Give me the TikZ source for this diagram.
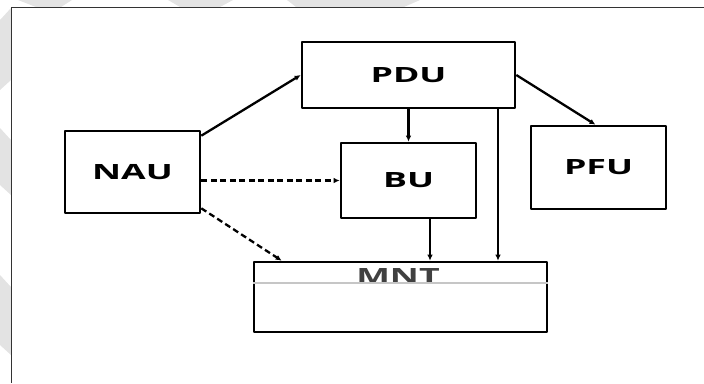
\documentclass[tikz,border=0pt]{standalone}
\usepackage{fontspec}
\usepackage{tikz}
\usetikzlibrary{arrows.meta}

\newfontfamily\unitafont[FakeStretch=1.7]{Open Sans}

\begin{document}
\begin{tikzpicture}[
        x=1pt, y=-1pt,
        line join=round,
        unita/.style={draw, line width=2.6pt, inner sep=0pt,
            font=\unitafont\bfseries\fontsize{21}{21}\selectfont},
        freccia/.style={line width=2.3pt, -{Latex[length=6pt,width=5.5pt]}},
        tratt/.style={freccia, dash pattern=on 6pt off 3.5pt}
    ]
        \useasboundingbox (0,0) rectangle (704,383);

        % filigrana
        \fill[gray!22] (18,0) -- (72,0) -- (61,7) -- (36,7) -- cycle;
        \fill[gray!22] (168,0) -- (233,0) -- (220,7) -- (180,7) -- cycle;
        \fill[gray!22] (287,0) -- (420,0) -- (404,7) -- (296,7) -- cycle;
        \fill[gray!22] (0,20) -- (11,8) -- (11,80) -- (0,90) -- cycle;
        \fill[gray!22] (0,128) -- (11,140) -- (11,195) -- (0,185) -- cycle;
        \fill[gray!22] (0,275) -- (11,287) -- (11,355) -- (0,345) -- cycle;

        % cornice
        \draw[line width=1.8pt, black!80] (704,7.5) -- (11.5,7.5) -- (11.5,383);

        % blocchi
        \node[unita, minimum width=213pt, minimum height=66pt] (pdu) at (408.5,75) {PDU};
        \node[unita, minimum width=135pt, minimum height=82pt] (nau) at (132.5,172) {NAU};
        \node[unita, minimum width=135pt, minimum height=75pt] (bu) at (408.5,180.5) {BU};
        \node[unita, minimum width=135pt, minimum height=83pt] (pfu) at (598.5,167.5) {PFU};
        \node[unita, minimum width=293pt, minimum height=70pt] (mnt) at (400.5,297) {};

        % etichetta e separatore di MNT
        \node[font=\unitafont\bfseries\fontsize{21}{21}\selectfont, text=black!75]
            (mnttxt) at (398,276) {MNT};
        \draw[line width=2pt, gray!45] ([yshift=-22pt]mnt.north west) -- ([yshift=-22pt]mnt.north east);

        % frecce piene
        \draw[freccia] ([yshift=-6pt]nau.north east) -- (pdu.west);
        \draw[freccia] (pdu.south) -- (bu.north);
        \draw[freccia] (pdu.east) -- ([xshift=-3pt]pfu.north);
        \draw[freccia] ([xshift=89.5pt]pdu.south) coordinate (p1) -- (p1 |- mnt.north);
        \draw[freccia] ([xshift=21.5pt]bu.south) coordinate (b1) -- (b1 |- mnt.north);

        % frecce tratteggiate
        \draw[tratt] (bu.west -| nau.east) -- (bu.west);
        \draw[tratt] ([yshift=6pt]nau.south east) -- ([xshift=29pt]mnt.north west);
    \end{tikzpicture}
\end{document}
